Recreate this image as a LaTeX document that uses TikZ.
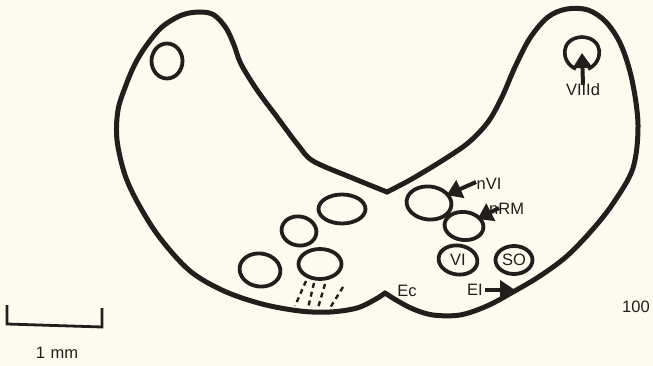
\documentclass[tikz,border=0pt]{standalone}
\usepackage{fontspec}
\setmainfont{Liberation Sans}
\usetikzlibrary{arrows.meta,shapes.geometric}
\definecolor{ink}{HTML}{221E1B}
\definecolor{paper}{HTML}{FCFBF0}
\begin{document}
\begin{tikzpicture}[x=1pt,y=-1pt,
  outline/.style={draw=ink, line width=5pt, line join=round, line cap=round},
  nucleus/.style={draw=ink, line width=3.8pt, ellipse, inner sep=0pt},
  lbl/.style={text=ink, font=\fontsize{16.5}{19}\selectfont, inner sep=0pt},
  pointer/.style={draw=ink, line width=4pt, -{Triangle[length=15pt,width=19pt]}},
  fiber/.style={draw=ink, line width=2.4pt, dash pattern=on 5pt off 4pt},
  scalebar/.style={draw=ink, line width=2.8pt, line join=miter},
]
% paper and page size
\fill[paper] (0,0) rectangle (653,366);
\useasboundingbox (0,0) rectangle (653,366);

% section outline: left half, then right half (the two notches are sharp)
\draw[outline] plot[smooth, tension=0.55] coordinates {
  (385,293) (376,299) (357,308) (330,312) (300,311) (262,304) (224,291)
  (190,271) (160,238) (139,205) (125,175) (117,140) (118,110) (126,85)
  (135,64) (146,46) (162,27) (182,15) (200,12) (214,15) (226,28) (234,45)
  (241,64) (257,90) (277,117) (298,145) (313,161) (350,177) (387,192)};
\draw[outline] plot[smooth, tension=0.55] coordinates {
  (387,192) (410,180) (440,162) (468,143) (488,122) (502,97) (515,67)
  (530,38) (548,17) (567,9) (588,10) (606,22) (621,45) (632,80) (638,125)
  (633,168) (614,202) (593,229) (567,256) (540,276) (513,292) (487,306)
  (460,315) (433,315) (413,309) (396,300) (385,293)};

% nuclei, left side
\node[nucleus, minimum width=31pt, minimum height=35pt] (tl) at (167,61) {};
\node[nucleus, minimum width=41pt, minimum height=33pt, rotate=-8] (la) at (260,270) {};
\node[nucleus, minimum width=35pt, minimum height=29pt, rotate=-10] (lb) at (299,231) {};
\node[nucleus, minimum width=43pt, minimum height=30pt] (lc) at (320,264) {};
\node[nucleus, minimum width=47pt, minimum height=29pt] (ld) at (342,209) {};

% nuclei, right side
\node[nucleus, minimum width=45pt, minimum height=33pt, rotate=-6] (nvi) at (429,203) {};
\node[nucleus, minimum width=39pt, minimum height=28pt, rotate=-6] (nrm) at (464,226) {};
\node[nucleus, minimum width=39pt, minimum height=29pt, rotate=-8] (vi) at (458,260) {};
\node[nucleus, minimum width=37pt, minimum height=28pt] (so) at (514,260) {};
\node[lbl] (vit) at (vi) {VI};
\node[lbl] (sot) at (so) {SO};

% dorsal loop with its pointer
\draw[draw=ink, line width=3.6pt] (576,69) .. controls (560,62) and (560,38) .. (582,37)
  .. controls (604,38) and (604,62) .. (588,69);
\coordinate (loopin) at (582,53);
\node[lbl] (viiid) at (583,90) {VIIId};
\draw[pointer] ([yshift=-1pt]viiid.north) -- (loopin);

% labels and pointers
\node[lbl] (nvit) at (489,184) {nVI};
\node[lbl, anchor=west] (nrmt) at (489,209) {nRM};
\node[lbl] (ect) at (407,291) {Ec};
\node[lbl] (eit) at (475,290) {EI};
\coordinate (nvitail) at (476,182);
\coordinate (nrmtail) at (499,208);
\draw[pointer, shorten >=-3pt] (nvitail) -- (nvi);
\draw[pointer, shorten >=-4pt] (nrmtail) -- (nrm);
\draw[pointer] ([xshift=2pt]eit.east) -- ([xshift=32pt]eit.east);

% fibres leaving the lower nucleus
\draw[fiber] (306,281) -- (295,306);
\draw[fiber] (314,283) -- (308,308);
\draw[fiber] (325,284) -- (318,308);
\draw[fiber] (343,287) -- (330,308);

% scale bar
\draw[scalebar] (7,305) -- (7,324) -- (102,327) -- (102,308);
\node[lbl] (mm) at (57,353) {1\,\,mm};
\node[lbl] (fig) at (636,307) {100};
\end{tikzpicture}
\end{document}
